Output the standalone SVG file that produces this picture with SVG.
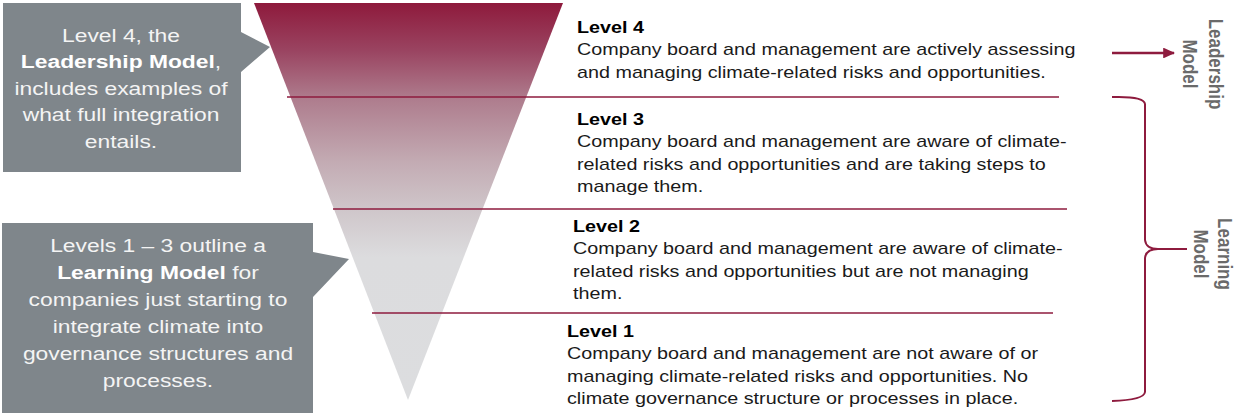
<svg xmlns="http://www.w3.org/2000/svg" width="1236" height="413" viewBox="0 0 1236 413">
  <style>
    .callout { fill: #7f868b; }
    .ctext { font-family: "Liberation Sans", Arial, sans-serif; font-size: 18.5px; fill: #f4f4f4; text-anchor: middle; }
    .b { font-weight: bold; fill: #ffffff; }
    .lvl { font-family: "Liberation Sans", Arial, sans-serif; font-size: 16px; fill: #1a1a1a; }
    .lvl .t { font-weight: bold; fill: #000000; }
    .side { font-family: "Liberation Sans", Arial, sans-serif; font-size: 17px; font-weight: bold; fill: #6a6a6a; text-anchor: middle; }
    .divider { stroke: #8e1b3e; stroke-width: 1.3; fill: none; }
    .conn { stroke: #8e1b3e; fill: none; }
  </style>
  <defs>
    <linearGradient id="funnelGrad" gradientUnits="userSpaceOnUse" x1="0" y1="3" x2="0" y2="400">
      <stop offset="0" stop-color="#8e1a3c"/>
      <stop offset="0.12" stop-color="#9a4461"/>
      <stop offset="0.24" stop-color="#ae7c8d"/>
      <stop offset="0.40" stop-color="#c3abb3"/>
      <stop offset="0.52" stop-color="#cfc6ca"/>
      <stop offset="0.64" stop-color="#dcdcde"/>
      <stop offset="1" stop-color="#dcdddf"/>
    </linearGradient>
    <marker id="arrowHead" viewBox="0 0 10 10" refX="9" refY="5" markerWidth="5" markerHeight="4.5" markerUnits="strokeWidth" orient="auto" preserveAspectRatio="none">
      <path d="M0,0 L10,5 L0,10 Z" fill="#8e1b3e"/>
    </marker>
  </defs>

  <g id="funnel">
    <polygon points="254,3 563,3 408,400" fill="url(#funnelGrad)"/>
  </g>

  <g id="dividers">
    <line class="divider" x1="287" y1="97" x2="1059" y2="97"/>
    <line class="divider" x1="333" y1="209" x2="1067" y2="209"/>
    <line class="divider" x1="372" y1="313" x2="1053" y2="313"/>
  </g>

  <g id="callout-leadership">
    <path class="callout" d="M3,3 H241 V32 L270,47 L241,72 V172 H3 Z"/>
    <g transform="translate(121,0) scale(1.235,1)">
      <text class="ctext" x="0" y="42">Level 4, the</text>
      <text class="ctext" x="0" y="68.5"><tspan class="b">Leadership Model</tspan>,</text>
      <text class="ctext" x="0" y="95">includes examples of</text>
      <text class="ctext" x="0" y="121.5">what full integration</text>
      <text class="ctext" x="0" y="148">entails.</text>
    </g>
  </g>

  <g id="callout-learning">
    <path class="callout" d="M2,223 H313 V252 L349,259 L313,297 V413 H2 Z"/>
    <g transform="translate(158,0) scale(1.235,1)">
      <text class="ctext" x="0" y="252">Levels 1 – 3 outline a</text>
      <text class="ctext" x="0" y="279"><tspan class="b">Learning Model</tspan> for</text>
      <text class="ctext" x="0" y="306">companies just starting to</text>
      <text class="ctext" x="0" y="333">integrate climate into</text>
      <text class="ctext" x="0" y="360">governance structures and</text>
      <text class="ctext" x="0" y="387">processes.</text>
    </g>
  </g>

  <g id="level4" transform="translate(577,0) scale(1.235,1)">
    <text class="lvl" x="0" y="33"><tspan class="t">Level 4</tspan></text>
    <text class="lvl" x="0" y="55.5">Company board and management are actively assessing</text>
    <text class="lvl" x="0" y="78">and managing climate-related risks and opportunities.</text>
  </g>

  <g id="level3" transform="translate(577,0) scale(1.235,1)">
    <text class="lvl" x="0" y="125"><tspan class="t">Level 3</tspan></text>
    <text class="lvl" x="0" y="147.5">Company board and management are aware of climate-</text>
    <text class="lvl" x="0" y="170">related risks and opportunities and are taking steps to</text>
    <text class="lvl" x="0" y="192.5">manage them.</text>
  </g>

  <g id="level2" transform="translate(573,0) scale(1.235,1)">
    <text class="lvl" x="0" y="232"><tspan class="t">Level 2</tspan></text>
    <text class="lvl" x="0" y="254.5">Company board and management are aware of climate-</text>
    <text class="lvl" x="0" y="277">related risks and opportunities but are not managing</text>
    <text class="lvl" x="0" y="299.5">them.</text>
  </g>

  <g id="level1" transform="translate(567,0) scale(1.235,1)">
    <text class="lvl" x="0" y="337"><tspan class="t">Level 1</tspan></text>
    <text class="lvl" x="0" y="359.5">Company board and management are not aware of or</text>
    <text class="lvl" x="0" y="382">managing climate-related risks and opportunities. No</text>
    <text class="lvl" x="0" y="404.5">climate governance structure or processes in place.</text>
  </g>

  <g id="label-leadership">
    <text class="side" transform="translate(1209,64) scale(1.235,1) rotate(90)"><tspan x="0" y="0">Leadership</tspan><tspan x="0" y="21">Model</tspan></text>
  </g>

  <g id="label-learning">
    <text class="side" transform="translate(1218,254) scale(1.235,1) rotate(90)"><tspan x="0" y="0">Learning</tspan><tspan x="0" y="19.5">Model</tspan></text>
  </g>

  <g id="connectors">
    <line class="conn" x1="1112" y1="53" x2="1174" y2="53" stroke-width="2.4" marker-end="url(#arrowHead)"/>
    <path class="conn" stroke-width="2" d="M1112,97 Q1144,96 1145,104 V240 Q1146,249 1158,249 H1187 M1158,249 Q1146,249 1145,258 V392 Q1144,400 1112,401"/>
  </g>
</svg>
